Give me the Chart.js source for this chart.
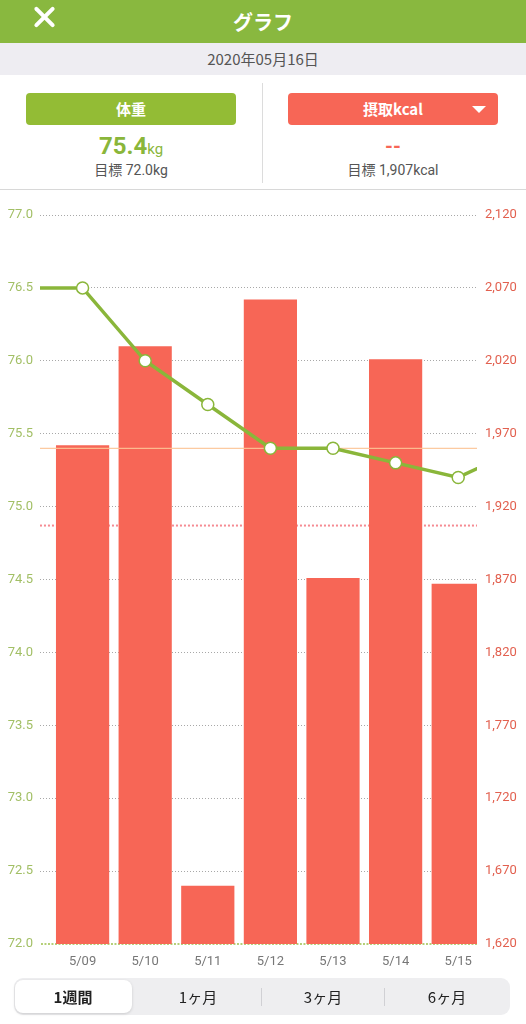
<!DOCTYPE html>
<html><head><meta charset="utf-8">
<script src="https://cdn.jsdelivr.net/npm/chart.js@4.4.0/dist/chart.umd.min.js"></script>
<style>
*{margin:0;padding:0;box-sizing:border-box}
body{width:526px;height:1024px;background:#fff;position:relative;overflow:hidden;font-family:"Roboto","Noto Sans CJK JP",sans-serif}
#hdr{position:absolute;left:0;top:0;width:526px;height:43px;background:#89b83f}
#hdr .t{position:absolute;left:0;width:526px;top:7px;text-align:center;color:#fff;font-weight:bold;font-size:20px;font-family:"Noto Sans CJK JP",sans-serif}
.x1,.x2{position:absolute;left:31px;top:15px;width:27px;height:4px;background:#fff;border-radius:2px}
.x1{transform:rotate(45deg)}.x2{transform:rotate(-45deg)}
#date{position:absolute;left:0;top:43px;width:526px;height:32px;background:#eeedf2;text-align:center;line-height:32px;font-size:15px;color:#555;font-family:"Noto Sans CJK JP",sans-serif}
#info{position:absolute;left:0;top:75px;width:526px;height:115px;background:#fff;border-bottom:1px solid #d8d8d8}
#sep{position:absolute;left:262px;top:8px;width:1px;height:100px;background:#dcdcdc}
.btn{position:absolute;top:18px;height:32px;border-radius:4px;color:#fff;font-weight:bold;font-size:15px;text-align:center;line-height:32px;font-family:"Noto Sans CJK JP",sans-serif}
#bw{left:26px;width:210px;background:#93bc35}
#bk{left:288px;width:210px;background:#f76656}
#tri{position:absolute;right:12px;top:13px;width:0;height:0;border-left:7px solid transparent;border-right:7px solid transparent;border-top:7px solid #fff}
.val{position:absolute;text-align:center;width:260px}
.sub{position:absolute;text-align:center;width:260px;font-size:14px;color:#555;font-family:"Roboto","Noto Sans CJK JP",sans-serif}
#cwrap{position:absolute;left:0;top:190px;width:526px;height:790px}
#seg{position:absolute;left:14px;top:978px;width:496px;height:37px;background:#eeeef0;border-radius:9px}
#sel{position:absolute;left:1px;top:2px;width:117px;height:33px;background:#fff;border-radius:8px;box-shadow:0 1px 3px rgba(0,0,0,0.15)}
.sl{position:absolute;top:0;height:37px;line-height:37px;font-size:15px;color:#222;text-align:center;width:120px;font-family:"Noto Sans CJK JP",sans-serif}
.ss{position:absolute;top:10px;width:1px;height:18px;background:#d0d0d4}
</style></head><body>
<div id="hdr"><div class="x1"></div><div class="x2"></div><div class="t">グラフ</div></div>
<div id="date">2020年05月16日</div>
<div id="info">
 <div id="sep"></div>
 <div class="btn" id="bw">体重</div>
 <div class="btn" id="bk">摂取kcal<div id="tri"></div></div>
 <div class="val" style="left:1px;top:57px;color:#8ab63a;font-weight:bold;font-size:24px;line-height:28px">75.4<span style="font-size:15px;font-weight:normal">kg</span></div>
 <div class="sub" style="left:1px;top:84px">目標 72.0kg</div>
 <div class="val" style="left:263px;top:58px;color:#f76656;font-weight:bold;font-size:20px;line-height:26px">--</div>
 <div class="sub" style="left:263px;top:84px">目標 1,907kcal</div>
</div>
<div id="cwrap"><canvas id="c" width="526" height="790"></canvas></div>
<div id="seg">
 <div id="sel"></div>
 <div class="sl" style="left:0;width:118px;font-weight:bold">1週間</div>
 <div class="sl" style="left:124px">1ヶ月</div>
 <div class="ss" style="left:247px"></div>
 <div class="sl" style="left:249px">3ヶ月</div>
 <div class="ss" style="left:370px"></div>
 <div class="sl" style="left:373px">6ヶ月</div>
</div>
<script>
// visible days
const days = ['5/09','5/10','5/11','5/12','5/13','5/14','5/15'];
// intake kcal per day
const kcal = [1962, 2030, 1660, 2062, 1871, 2021, 1867];
// weight per day, including the neighbours just outside the window (5/08 and 5/16)
const weightDays = ['5/08','5/09','5/10','5/11','5/12','5/13','5/14','5/15','5/16'];
const weight = [76.5, 76.5, 76.0, 75.7, 75.4, 75.4, 75.3, 75.2, 75.4];
const currentWeight = 75.4;
const targetWeight = 72.0;
const targetKcal = 1907;
const weightAxis = {min: 72.0, max: 77.0, step: 0.5};
const kcalAxis = {min: 1620, max: 2120, step: 50};

const GREEN = '#8ab63a', RED = '#f76656';
const xIndex = d => days.indexOf(d) >= 0 ? days.indexOf(d) : (d === '5/08' ? -1 : days.length);

const refSpan = [-1, days.length];
new Chart(document.getElementById('c'), {
  data: {
    datasets: [
      {type:'line', label:'weight', yAxisID:'yW', order:0,
       data: weightDays.map((d,i)=>({x:xIndex(d), y:weight[i]})),
       borderColor:GREEN, borderWidth:3.5, pointRadius:6, pointBorderWidth:1.5,
       pointBackgroundColor:'#fff', pointBorderColor:GREEN, tension:0, clip:0},
      {type:'line', label:'current', yAxisID:'yW', order:1,
       data: refSpan.map(x=>({x, y:currentWeight})),
       borderColor:'rgba(252,196,150,0.9)', borderWidth:1.2, pointRadius:0, clip:0},
      {type:'bar', label:'kcal', yAxisID:'yK', order:2,
       data: kcal.map((v,i)=>({x:i, y:v})),
       backgroundColor:RED, barPercentage:0.85, categoryPercentage:1, clip:0},
      {type:'line', label:'targetK', yAxisID:'yK', order:3,
       data: refSpan.map(x=>({x, y:targetKcal})),
       borderColor:'#f58a92', borderWidth:2, borderDash:[2,2], pointRadius:0, clip:0},
      {type:'line', label:'targetW', yAxisID:'yW', order:4,
       data: refSpan.map(x=>({x, y:targetWeight})),
       borderColor:'#9cc04a', borderWidth:1.5, borderDash:[2,1.5], pointRadius:0,
       clip:{left:0, right:0, top:0, bottom:2}}
    ]
  },
  options: {
    responsive:false, animation:false,
    layout:{padding:{top:25,left:0,right:0,bottom:0}},
    plugins:{legend:{display:false}, tooltip:{enabled:false}},
    scales:{
      x:{type:'linear', min:-0.68, max:6.30, offset:false,
         afterFit: s=>{s.height=36;},
         afterBuildTicks: s=>{s.ticks = days.map((_,i)=>({value:i}));},
         grid:{display:false}, border:{display:false},
         ticks:{padding:2, autoSkip:false, maxRotation:0, color:'#777',
           font:{size:13, family:'Roboto'}, callback:v=>days[v]}},
      yW:{type:'linear', position:'left', min:weightAxis.min, max:weightAxis.max,
         afterFit: s=>{s.width=40;},
         border:{display:false, dash:[1,2]},
         grid:{drawTicks:false, lineWidth:1,
           color: c => (c.tick && c.tick.value === targetWeight) ? 'rgba(0,0,0,0)' : '#a8a8a8'},
         ticks:{stepSize:weightAxis.step, padding:7, color:'#a2bf65',
           font:{size:13, family:'Roboto'}, callback:v=>v.toFixed(1)}},
      yK:{type:'linear', position:'right', min:kcalAxis.min, max:kcalAxis.max,
         afterFit: s=>{s.width=49;},
         border:{display:false},
         grid:{drawOnChartArea:false, drawTicks:false},
         ticks:{stepSize:kcalAxis.step, padding:8, color:'#e2604f',
           font:{size:13, family:'Roboto'}, callback:v=>v.toLocaleString('en-US')}}
    }
  }
});
</script>
</body></html>
